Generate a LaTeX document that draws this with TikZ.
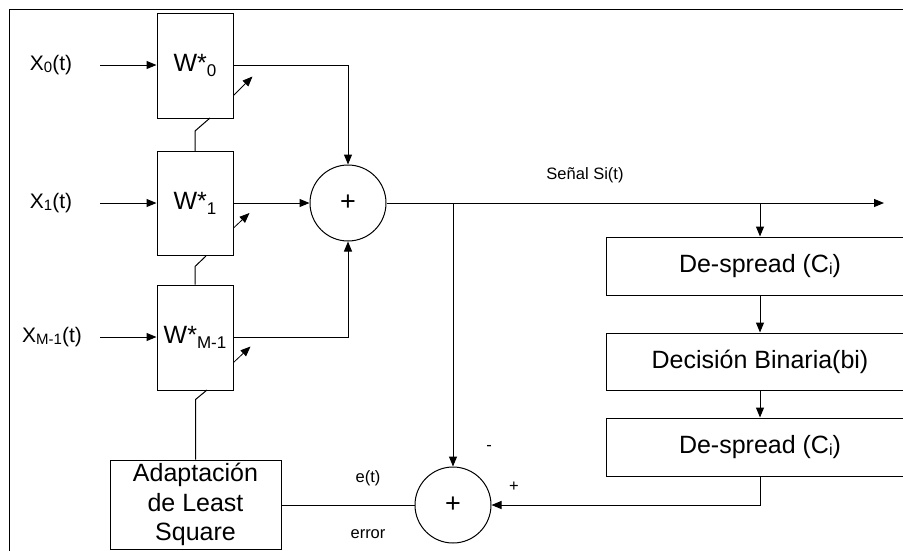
\documentclass[tikz,border=0pt]{standalone}
\usepackage{fontspec}
\setmainfont{Liberation Sans}
\usetikzlibrary{arrows.meta,calc}
\begin{document}
\begin{tikzpicture}[x=1pt,y=-1pt,
  line width=1pt,
  arr/.style={-{Triangle[length=10pt,width=8pt]}},
  wbox/.style={draw,minimum width=76pt,inner sep=0pt,font=\fontsize{25}{30}\selectfont},
  sumnode/.style={draw,circle,minimum size=76pt,inner sep=0pt,font=\fontsize{27}{30}\selectfont},
  dbox/.style={draw,minimum width=308pt,inner sep=0pt,font=\fontsize{25}{30}\selectfont},
  abox/.style={draw,minimum width=171pt,minimum height=89pt,inner sep=0pt,align=center,font=\fontsize{25}{29.5}\selectfont},
  lbl/.style={font=\fontsize{21}{25}\selectfont},
  small/.style={font=\fontsize{16.5}{19}\selectfont}]
\useasboundingbox (0,0) rectangle (903,550);
\clip (0,0) rectangle (903,550);

% frame
\draw (9,551) -- (9,9) -- (910,9);

% weight boxes
\node[wbox,minimum height=105pt] (w0) at (195,65.5) {W*\raisebox{-5pt}{\fontsize{17}{17}\selectfont 0}};
\node[wbox,minimum height=104pt] (w1) at (195,203.5) {W*\raisebox{-5pt}{\fontsize{17}{17}\selectfont 1}};
\node[wbox,minimum height=105pt] (wm) at (195,337.5) {W*\raisebox{-5pt}{\fontsize{17}{17}\selectfont M-1}};

% inputs
\node[lbl] (x0) at (51,65) {X\raisebox{-2pt}{\fontsize{15}{15}\selectfont 0}(t)};
\node[lbl] (x1) at (51,203) {X\raisebox{-2pt}{\fontsize{15}{15}\selectfont 1}(t)};
\node[lbl] (xm) at (52,337) {X\raisebox{-2pt}{\fontsize{15}{15}\selectfont M-1}(t)};
\coordinate (i0) at (100,65);
\coordinate (i1) at (100,203);
\coordinate (im) at (100,337);
\draw[arr] (i0) -- (w0.west |- i0);
\draw[arr] (i1) -- (w1.west |- i1);
\draw[arr] (im) -- (wm.west |- im);

% adjustment arrows
\draw[arr,line width=0.8pt] ([yshift=23pt]w0.south east) -- ++(19,-19);
\draw[arr,line width=0.8pt] ([yshift=28pt]w1.south east) -- ++(16,-15);
\draw[arr,line width=0.8pt] ([yshift=28pt]wm.south east) -- ++(17,-16);

% summer
\node[sumnode] (s1) at (348,203) {+};
\draw[arr] (w0.east |- i0) -| (s1.north);
\draw[arr] (w1.east |- s1.west) -- (s1.west);
\draw[arr] (wm.east |- im) -| (s1.south);

% adaptation
\node[abox] (ad) at (195.5,504.5) {Adaptación\\de Least\\Square};

% links between boxes
\draw (w1.north) -- ++(0,-20) -- (210,118);
\draw (wm.north) -- ++(0,-18) -- (206,256);
\draw (ad.north) -- ++(0,-60) -- (207,390);

% output
\coordinate (b1) at (453,203);
\coordinate (b2) at (760,203);
\coordinate (out) at (884,203);
\draw[arr] (s1.east) -- (out);
\node[small] (sl) at (585,175) {Señal Si(t)};

% despread chain
\node[dbox,minimum height=58pt] (d1) at (760,266) {De-spread (C\raisebox{-2pt}{\fontsize{16}{16}\selectfont i})};
\node[dbox,minimum height=57pt] (d2) at (760,361.5) {Decisión Binaria(bi)};
\node[dbox,minimum height=58pt] (d3) at (760,447) {De-spread (C\raisebox{-2pt}{\fontsize{16}{16}\selectfont i})};
\draw[arr] (b2) -- (d1.north);
\draw[arr] (d1.south) -- (d2.north);
\draw[arr] (d2.south) -- (d3.north);

% error summer
\node[sumnode] (s2) at (453,505) {+};
\draw[arr] (b1) -- (s2.north);
\draw[arr] (d3.south) |- (s2.east);
\draw (ad.east |- s2.west) -- (s2.west);

\node[small] (mi) at (489,448) {-};
\node[small] (pl) at (514,487) {+};
\node[small] (et) at (368,478) {e(t)};
\node[small] (er) at (368,534) {error};
\end{tikzpicture}
\end{document}
